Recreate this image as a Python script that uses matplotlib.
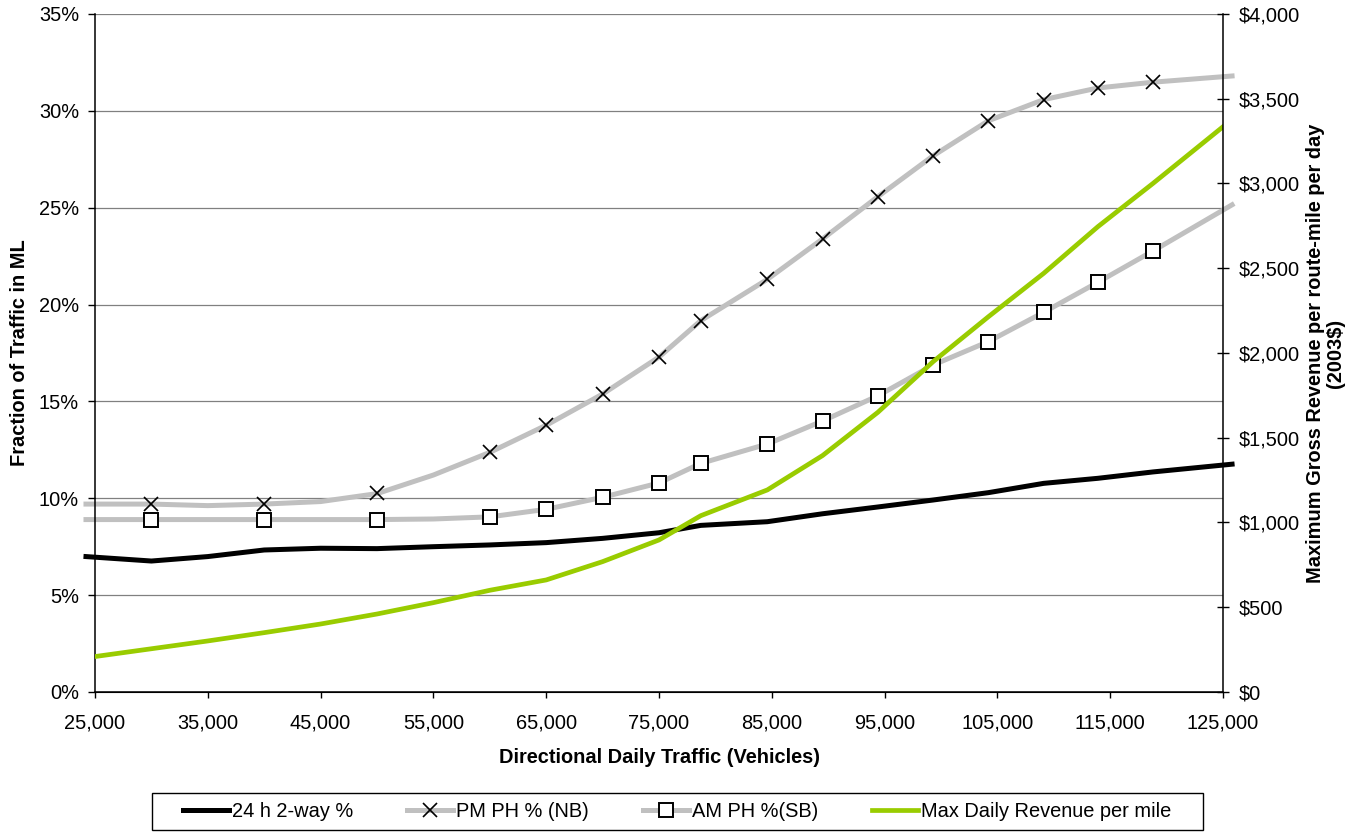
import matplotlib.pyplot as plt
from matplotlib.lines import Line2D
from matplotlib.patches import Rectangle
from matplotlib.ticker import FuncFormatter, MultipleLocator

plt.rcParams["font.family"] = ["Liberation Sans", "DejaVu Sans"]
plt.rcParams["font.size"] = 14.4

GRAY = "#c0c0c0"
GREEN = "#99cc00"

# traffic volumes (veh/day) at which the share curves are sampled
traffic = [24200, 30000, 35000, 40000, 45000, 50000, 55000, 60000, 65000, 70000,
           75000, 78700, 84600, 89500, 94400, 99300, 104200, 109100, 113900,
           118800, 125800]
two_way_pct = [6.99, 6.76, 6.99, 7.33, 7.42, 7.40, 7.50, 7.59, 7.71, 7.93,
               8.22, 8.60, 8.79, 9.20, 9.55, 9.91, 10.29, 10.77, 11.03,
               11.36, 11.76]
pm_pct = [9.70, 9.70, 9.62, 9.70, 9.83, 10.24, 11.20, 12.37, 13.77, 15.38,
          17.29, 19.17, 21.30, 23.39, 25.57, 27.68, 29.49, 30.58, 31.18,
          31.48, 31.80]
am_pct = [8.90, 8.90, 8.90, 8.90, 8.90, 8.90, 8.93, 9.04, 9.43, 10.05,
          10.79, 11.80, 12.80, 13.99, 15.29, 16.88, 18.09, 19.60, 21.15,
          22.77, 25.15]

# peak-hour observation points
traffic_marks = [30000, 40000, 50000, 60000, 65000, 70000, 75000, 78700, 84600,
                 89500, 94400, 99300, 104200, 109100, 113900, 118800]
pm_marks = [9.70, 9.70, 10.26, 12.37, 13.77, 15.38, 17.29, 19.17, 21.30,
            23.39, 25.57, 27.68, 29.49, 30.58, 31.18, 31.48]
am_marks = [8.90, 8.90, 8.90, 9.04, 9.43, 10.05, 10.79, 11.80, 12.80,
            13.99, 15.29, 16.88, 18.09, 19.60, 21.15, 22.77]

# max daily revenue per route-mile (2003$)
traffic_rev = [25000, 30000, 35000, 40000, 45000, 50000, 55000, 60000, 65000,
               70000, 75000, 78700, 84600, 89500, 94400, 99300, 104200, 109100,
               113900, 118800, 125000]
revenue = [209, 255, 301, 350, 401, 460, 527, 600, 661, 769, 897, 1040, 1192,
           1395, 1650, 1949, 2214, 2470, 2745, 3001, 3335]

x_ticks = [25000, 35000, 45000, 55000, 65000, 75000, 85000, 95000, 105000,
           115000, 125000]
labels = ["24 h 2-way %", "PM PH % (NB)", "AM PH %(SB)", "Max Daily Revenue per mile"]


def style_axes(ax, ax2):
    ax.set_xlim(25000, 125000)
    ax.set_ylim(0, 35)
    ax2.set_ylim(0, 4000)
    ax.set_xticks(x_ticks)
    ax.yaxis.set_major_locator(MultipleLocator(5))
    ax2.yaxis.set_major_locator(MultipleLocator(500))
    ax.xaxis.set_major_formatter(FuncFormatter(lambda v, p: f"{v:,.0f}"))
    ax.yaxis.set_major_formatter(FuncFormatter(lambda v, p: f"{v:.0f}%"))
    ax2.yaxis.set_major_formatter(FuncFormatter(lambda v, p: f"\\${v:,.0f}"))

    ax.yaxis.grid(True, color="#808080", lw=0.9)
    ax.set_axisbelow(True)
    for a in (ax, ax2):
        a.spines["top"].set_visible(False)
    ax.spines["right"].set_visible(False)
    ax2.spines["left"].set_visible(False)
    for s in ("left", "bottom"):
        ax.spines[s].set_linewidth(1.1)
    ax2.spines["right"].set_linewidth(1.1)

    ax.tick_params(axis="y", direction="out", length=5, width=1, pad=6.5)
    ax.tick_params(axis="x", direction="out", length=4.5, width=1, pad=11)
    ax2.tick_params(axis="y", direction="inout", length=9, width=1, pad=7)

    ax.set_xlabel("Directional Daily Traffic (Vehicles)", fontweight="bold", labelpad=11)
    ax.set_ylabel("Fraction of Traffic in ML", fontweight="bold", labelpad=7)
    ax2.set_ylabel("Maximum Gross Revenue per route-mile per day\n(2003\\$)",
                   fontweight="bold", labelpad=4, linespacing=1.1)


def add_legend(fig):
    handles = [
        Line2D([], [], color="black", lw=3.6),
        Line2D([], [], color=GRAY, lw=3.6, marker="x", ms=10.5, mew=1.2, mec="black"),
        Line2D([], [], color=GRAY, lw=3.6, marker="s", ms=10.5, mew=1.4,
               mec="black", mfc="white"),
        Line2D([], [], color=GREEN, lw=3.4),
    ]
    fig.legend(handles, labels, loc="center", bbox_to_anchor=(0.496, 0.026),
               ncol=4, frameon=False, borderpad=0.35, handlelength=2.3,
               handletextpad=0.15, columnspacing=2.7, numpoints=1)
    # wider box than the legend's own frame, drawn in figure coordinates
    fig.patches.append(Rectangle((0.1113, 0.0036), 0.770, 0.0444,
                                 transform=fig.transFigure, fill=False,
                                 edgecolor="black", lw=1.0))


def main():
    fig = plt.figure(figsize=(13.65, 8.33), dpi=100)
    ax = fig.add_subplot(111)
    fig.subplots_adjust(left=0.0696, right=0.896, bottom=0.1693, top=0.9832)
    ax2 = ax.twinx()

    ax.plot(traffic, two_way_pct, color="black", lw=3.6, clip_on=False)
    ax.plot(traffic, pm_pct, color=GRAY, lw=3.6, clip_on=False)
    ax.plot(traffic, am_pct, color=GRAY, lw=3.6, clip_on=False)
    ax.plot(traffic_marks, pm_marks, ls="none", marker="x", ms=10.5, mew=1.2,
            mec="black", zorder=4)
    ax.plot(traffic_marks, am_marks, ls="none", marker="s", ms=10.5, mew=1.4,
            mec="black", mfc="white", zorder=4)
    ax2.plot(traffic_rev, revenue, color=GREEN, lw=3.4)

    style_axes(ax, ax2)
    add_legend(fig)

    fig.savefig("out.png", dpi=100)


if __name__ == "__main__":
    main()
